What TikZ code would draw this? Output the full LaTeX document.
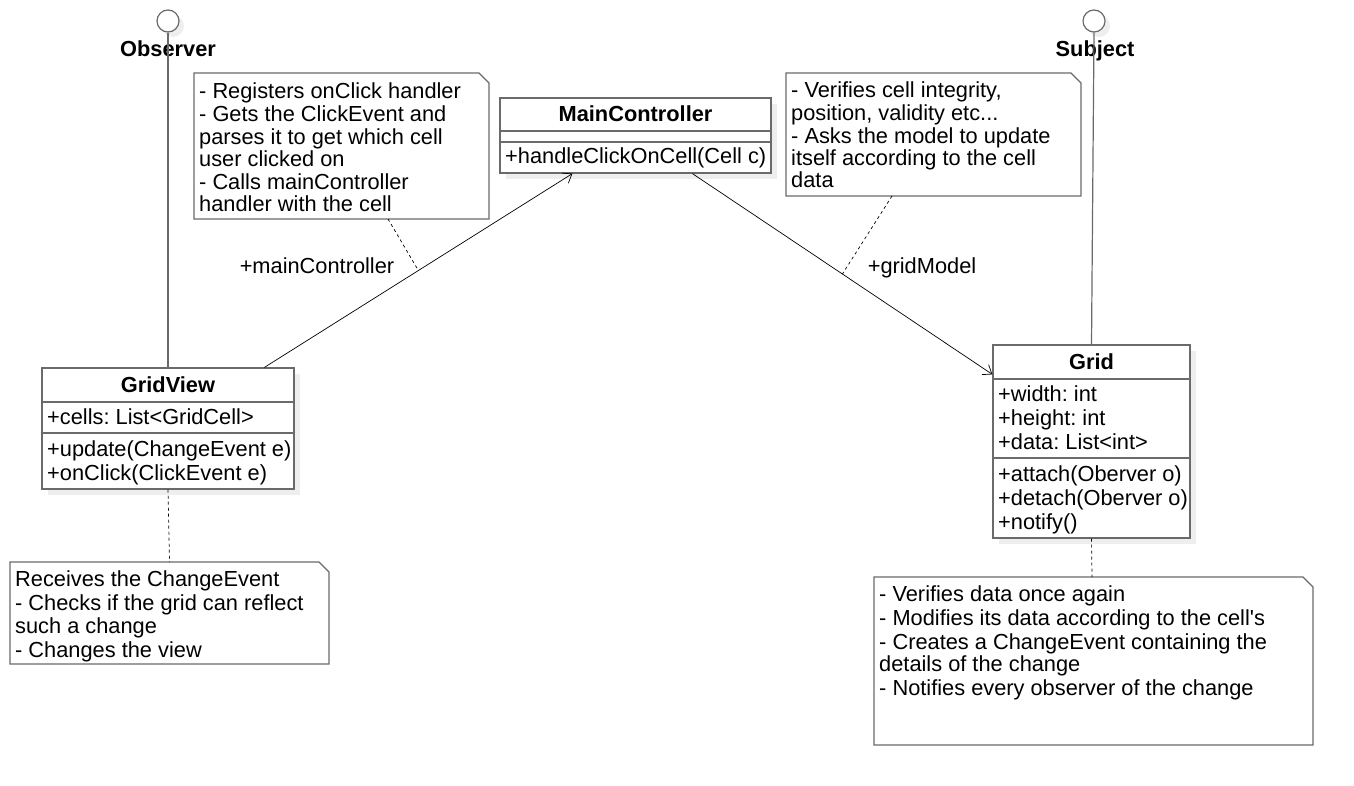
\documentclass[tikz,border=0pt]{standalone}
\usepackage{fontspec}
\setmainfont{Liberation Sans}
\usetikzlibrary{arrows.meta,calc,shadows}
\definecolor{boxgray}{HTML}{6A6A6A}
\definecolor{shade}{HTML}{EEEEEE}
\frenchspacing
\begin{document}
\begin{tikzpicture}[x=1pt,y=-1pt,
  txt/.style={inner sep=0pt, anchor=base west, font=\fontsize{21.8}{24}\selectfont},
  title/.style={inner sep=0pt, anchor=base, font=\fontsize{21.8}{24}\selectfont\bfseries},
  classbox/.style={draw=boxgray, line width=1.2pt, fill=white, rectangle, inner sep=0pt,
    drop shadow={shadow xshift=6pt, shadow yshift=-6pt, fill=shade, opacity=1}},
  divider/.style={draw=boxgray, line width=1.2pt},
  notearea/.style={rectangle, inner sep=0pt, outer sep=0pt},
  noteline/.style={draw=boxgray, line width=1.2pt, fill=white},
  iface/.style={circle, draw=boxgray, line width=1.2pt, fill=white, minimum size=22pt, inner sep=0pt,
    drop shadow={shadow xshift=5pt, shadow yshift=-5pt, fill=shade, opacity=1}},
  realize/.style={draw=boxgray, line width=1.2pt},
  assoc/.style={draw=black, line width=0.7pt, -{Straight Barb[length=8pt,width=12pt,line width=0.7pt]}},
  anchorline/.style={draw=black, line width=0.7pt, dash pattern=on 3pt off 3pt},
]
\useasboundingbox (0,0) rectangle (1354,786);

% ---- interfaces ----
\node[iface] (obs) at (168,21) {};
\node[title] (obslabel) at (168,57) {Observer};
\node[iface] (subj) at (1094,21) {};
\node[title] (subjlabel) at (1095,57) {Subject};

% ---- classes ----
\node[classbox, minimum width=252pt, minimum height=121pt] (gridview) at (168,428.5) {};
\draw[divider] (42,402) -- (294,402);
\draw[divider] (42,433) -- (294,433);
\node[title] (gvt) at (168,392) {GridView};
\node[txt] (gva) at (47,424) {+cells: List<GridCell>};
\node[txt] (gvm1) at (47,456) {+update(ChangeEvent e)};
\node[txt] (gvm2) at (47,480) {+onClick(ClickEvent e)};

\node[classbox, minimum width=271pt, minimum height=75pt] (mc) at (635.5,135.5) {};
\draw[divider] (500,131) -- (771,131);
\draw[divider] (500,142) -- (771,142);
\node[title] (mct) at (635.5,122) {MainController};
\node[txt] (mcm) at (505,164) {+handleClickOnCell(Cell c)};

\node[classbox, minimum width=197pt, minimum height=193pt] (grid) at (1091.5,441.5) {};
\draw[divider] (993,379) -- (1190,379);
\draw[divider] (993,458) -- (1190,458);
\node[title] (gt) at (1091.5,369) {Grid};
\node[txt] (ga1) at (998,401) {+width: int};
\node[txt] (ga2) at (998,425) {+height: int};
\node[txt] (ga3) at (998,449) {+data: List<int>};
\node[txt] (gm1) at (998,481) {+attach(Oberver o)};
\node[txt] (gm2) at (998,505) {+detach(Oberver o)};
\node[txt] (gm3) at (998,529) {+notify()};

% ---- realizations of the interfaces ----
\draw[realize] (obs.south) -- (gridview.north);
\draw[realize] (subj.south) -- (grid.north);

% ---- associations ----
\coordinate (gvend) at ([xshift=223pt]gridview.north west);
\coordinate (mcin) at ([xshift=73pt]mc.south west);
\coordinate (mcout) at ([xshift=193pt]mc.south west);
\coordinate (gin) at ([yshift=-30pt]grid.north west);
\draw[assoc] (gvend) -- (mcin);
\draw[assoc] (mcout) -- (gin);
\node[inner sep=0pt, anchor=base, font=\fontsize{21.8}{24}\selectfont] (lmc) at (317,274) {+mainController};
\node[inner sep=0pt, anchor=base, font=\fontsize{21.8}{24}\selectfont] (lgm) at (922,274) {+gridModel};
\coordinate (onmc) at ($(gvend)!0.5!(mcin)$);
\coordinate (ongm) at ($(mcout)!0.5!(gin)$);

% ---- notes ----
\node[notearea, minimum width=295pt, minimum height=146pt] (note1) at (341.5,146) {};
\node[notearea, minimum width=295pt, minimum height=123pt] (note2) at (933.5,134.5) {};
\node[notearea, minimum width=319pt, minimum height=102pt] (note3) at (169.5,613) {};
\node[notearea, minimum width=439pt, minimum height=168pt] (note4) at (1093.5,661) {};
\foreach \n in {note1,note2,note3,note4}{
  \draw[noteline] (\n.north west) -- ([xshift=-10pt]\n.north east) -- ([yshift=-10pt]\n.north east)
    -- (\n.south east) -- (\n.south west) -- cycle;
}

\node[txt] (n1a) at (199,99) {- Registers onClick handler};
\node[txt] (n1b) at (199,122) {- Gets the ClickEvent and};
\node[txt] (n1c) at (199,145) {parses it to get which cell};
\node[txt] (n1d) at (199,167) {user clicked on};
\node[txt] (n1e) at (199,190) {- Calls mainController};
\node[txt] (n1f) at (199,212) {handler with the cell};

\node[txt] (n2a) at (791,98) {- Verifies cell integrity,};
\node[txt] (n2b) at (791,121) {position, validity etc...};
\node[txt] (n2c) at (791,144) {- Asks the model to update};
\node[txt] (n2d) at (791,166) {itself according to the cell};
\node[txt] (n2e) at (791,188) {data};

\node[txt] (n3a) at (15,586) {Receives the ChangeEvent};
\node[txt] (n3b) at (15,610) {- Checks if the grid can reflect};
\node[txt] (n3c) at (15,633) {such a change};
\node[txt] (n3d) at (15,657) {- Changes the view};

\node[txt] (n4a) at (879,601) {- Verifies data once again};
\node[txt] (n4b) at (879,625) {- Modifies its data according to the cell\textquotesingle s};
\node[txt] (n4c) at (879,649) {- Creates a ChangeEvent containing the};
\node[txt] (n4d) at (879,671) {details of the change};
\node[txt] (n4e) at (879,695) {- Notifies every observer of the change};

% ---- note anchors ----
\draw[anchorline] ([xshift=194pt]note1.south west) -- (onmc);
\draw[anchorline] ([xshift=106pt]note2.south west) -- (ongm);
\draw[anchorline] (gridview.south) -- (note3.north);
\draw[anchorline] (grid.south) -- ([xshift=-1.5pt]note4.north);
\end{tikzpicture}
\end{document}
